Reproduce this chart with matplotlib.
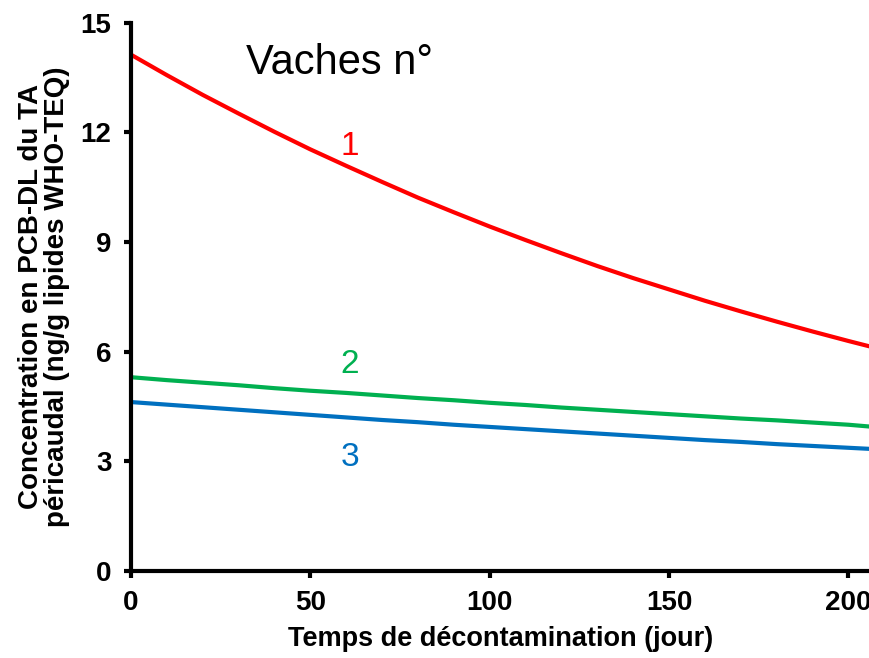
import matplotlib.pyplot as plt

plt.rcParams['font.family'] = ['Liberation Sans', 'DejaVu Sans']

# Decontamination time (days) and PCB-DL concentration for each cow
days = [0, 10, 20, 30, 40, 50, 60, 70, 80, 90, 100,
        110, 120, 130, 140, 150, 160, 170, 180, 190, 200, 206]
cow1 = [14.12, 13.56, 13.02, 12.51, 12.01, 11.53, 11.08, 10.64, 10.21, 9.81, 9.42,
        9.05, 8.69, 8.34, 8.01, 7.70, 7.39, 7.10, 6.82, 6.55, 6.29, 6.14]
cow2 = [5.30, 5.22, 5.15, 5.08, 5.00, 4.93, 4.87, 4.80, 4.73, 4.67, 4.60,
        4.54, 4.47, 4.41, 4.35, 4.29, 4.23, 4.17, 4.12, 4.06, 4.00, 3.95]
cow3 = [4.62, 4.55, 4.48, 4.41, 4.34, 4.27, 4.20, 4.13, 4.07, 4.00, 3.94,
        3.88, 3.82, 3.76, 3.70, 3.64, 3.58, 3.53, 3.47, 3.42, 3.37, 3.34]

x_ticks = [0, 50, 100, 150, 200]
y_ticks = [0, 3, 6, 9, 12, 15]

fig = plt.figure(figsize=(8.7, 6.58), dpi=100)
ax = fig.add_axes([0.1506, 0.1322, 0.8494, 0.8336])

ax.plot(days, cow1, color='#FF0000', lw=3, solid_capstyle='butt')
ax.plot(days, cow2, color='#00B050', lw=3, solid_capstyle='butt')
ax.plot(days, cow3, color='#0070C0', lw=3, solid_capstyle='butt')

ax.set_xlim(0, 206)
ax.set_ylim(0, 15)
ax.set_xticks(x_ticks)
ax.set_yticks(y_ticks)

for side in ['top', 'right']:
    ax.spines[side].set_visible(False)
for side in ['left', 'bottom']:
    ax.spines[side].set_linewidth(3)

ax.tick_params(direction='out', length=5, width=3, labelsize=20, pad=9)
for lab in ax.get_xticklabels() + ax.get_yticklabels():
    lab.set_fontweight('bold')

ax.set_xlabel('Temps de décontamination (jour)', fontsize=19.5, fontweight='bold', labelpad=7)
ax.set_ylabel('Concentration en PCB-DL du TA\npéricaudal (ng/g lipides WHO-TEQ)',
              fontsize=20, fontweight='bold', labelpad=8, linespacing=1.0)

ax.text(58, 13.9, 'Vaches n°', fontsize=30, ha='center', va='center')
ax.text(61, 11.6, '1', fontsize=24, color='#FF0000', ha='center', va='center')
ax.text(61, 5.65, '2', fontsize=24, color='#00B050', ha='center', va='center')
ax.text(61, 3.1, '3', fontsize=24, color='#0070C0', ha='center', va='center')

fig.savefig('out.png', dpi=100)
